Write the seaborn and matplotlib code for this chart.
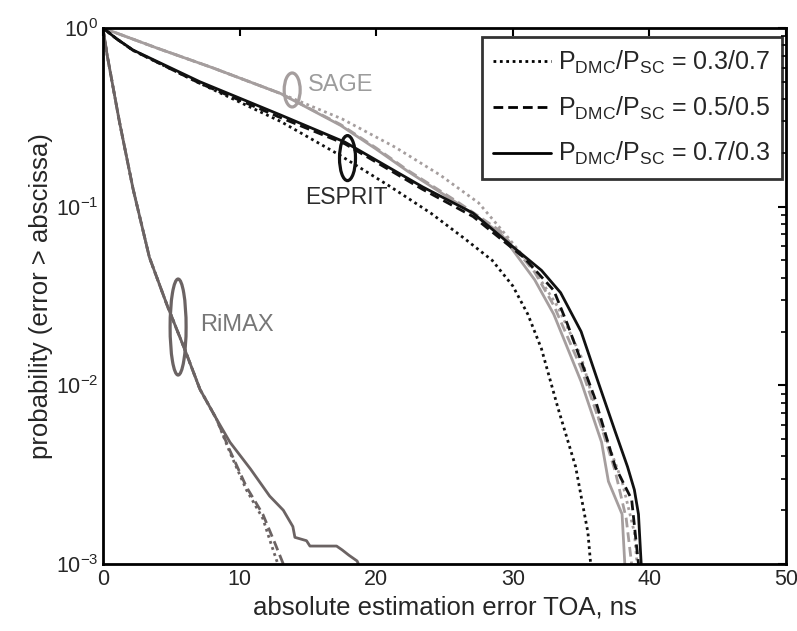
import matplotlib
matplotlib.use('Agg')
import matplotlib.pyplot as plt
import matplotlib.transforms as mtransforms
from matplotlib.patches import Ellipse
from matplotlib.lines import Line2D
import pandas as pd
import seaborn as sns

# --- data (error in ns, probability error > abscissa) ---
sage_solid_x = [0, 4, 8, 13, 17.4, 20, 22.3, 25.9, 29.1, 31.6, 33, 35, 36.5, 37, 38, 38.2]
sage_solid_y = [1.0, 0.77, 0.60, 0.43, 0.285, 0.21, 0.158, 0.105, 0.071, 0.039, 0.025, 0.0105, 0.0048, 0.0029, 0.0019, 0.001]
sage_dash_x = [0, 4, 8, 13, 17.4, 20, 22.3, 25.9, 29.1, 31.6, 33, 35, 36.5, 37.5, 38.3, 38.7]
sage_dash_y = [1.0, 0.77, 0.60, 0.43, 0.288, 0.213, 0.16, 0.107, 0.073, 0.043, 0.028, 0.0125, 0.0058, 0.0033, 0.0018, 0.001]
sage_dot_x = [0, 4, 8, 13, 14, 17.5, 21.4, 24.7, 27.5, 29.6, 31.5, 33.3, 35, 36.2, 38, 38.9, 39.1]
sage_dot_y = [1.0, 0.77, 0.60, 0.43, 0.40, 0.31, 0.215, 0.15, 0.105, 0.068, 0.045, 0.0275, 0.0145, 0.0068, 0.0029, 0.0015, 0.001]

esprit_solid_x = [0, 1, 2.2, 7.1, 13, 17.7, 23.4, 27.1, 30.2, 32.1, 33.5, 35, 36.2, 37.5, 38.4, 38.9, 39.2, 39.4]
esprit_solid_y = [1.0, 0.87, 0.753, 0.50, 0.326, 0.23, 0.129, 0.092, 0.058, 0.044, 0.033, 0.020, 0.0107, 0.0055, 0.0035, 0.0026, 0.0019, 0.001]
esprit_dash_x = [0, 1, 2.2, 7.1, 13, 17.7, 23.4, 27.1, 30.8, 33, 34, 36, 37.5, 38.7, 39.2]
esprit_dash_y = [1.0, 0.87, 0.75, 0.49, 0.315, 0.225, 0.125, 0.088, 0.052, 0.034, 0.022, 0.0085, 0.0035, 0.0023, 0.001]
esprit_dot_x = [0, 1, 2.2, 7.1, 13, 17.3, 21, 24, 26.5, 28.5, 30, 31.1, 32.1, 33.3, 34.6, 35.5, 35.7]
esprit_dot_y = [1.0, 0.87, 0.75, 0.49, 0.30, 0.195, 0.13, 0.092, 0.066, 0.05, 0.036, 0.025, 0.016, 0.0075, 0.0035, 0.0015, 0.001]

rimax_solid_x = [0, 0.3, 1.2, 2.2, 3.4, 4.7, 6.0, 7.1, 8.3, 9.3, 10.8, 12.2, 13.2, 13.9, 14.05, 14.9, 15.15, 17.1, 17.5, 18.0, 18.6, 18.7]
rimax_solid_y = [1.0, 0.71, 0.30, 0.126, 0.052, 0.028, 0.0158, 0.0095, 0.0065, 0.0048, 0.0034, 0.0024, 0.0020, 0.00162, 0.00141, 0.00135, 0.00126, 0.00126, 0.0012, 0.00112, 0.00104, 0.001]
rimax_dash_x = [0, 0.3, 1.2, 2.2, 3.4, 4.7, 6.0, 7.1, 8.3, 9.3, 10.5, 11.7, 12.6, 13.2]
rimax_dash_y = [1.0, 0.71, 0.30, 0.126, 0.052, 0.028, 0.0158, 0.0095, 0.0065, 0.0043, 0.0027, 0.0019, 0.0013, 0.001]
rimax_dot_x = [0, 0.3, 1.2, 2.2, 3.4, 4.7, 6.0, 7.1, 8.3, 9.3, 10.5, 11.7, 12.3, 12.8]
rimax_dot_y = [1.0, 0.71, 0.30, 0.126, 0.052, 0.028, 0.0158, 0.0095, 0.0065, 0.0042, 0.0026, 0.0018, 0.0013, 0.001]

legend_labels = [r'$\mathregular{P_{DMC}/P_{SC}}$ = 0.3/0.7',
                 r'$\mathregular{P_{DMC}/P_{SC}}$ = 0.5/0.5',
                 r'$\mathregular{P_{DMC}/P_{SC}}$ = 0.7/0.3']

# colours
SAGE_C = '#a59e9e'
ESPRIT_C = '#111111'
RIMAX_C = '#6b6363'
DOT = (0, (1, 1.3))
DASH = (0, (3.5, 1.8))

sns.set_style('white')
plt.rcParams['font.family'] = ['Liberation Sans', 'DejaVu Sans']
plt.rcParams['mathtext.fontset'] = 'custom'
plt.rcParams['mathtext.rm'] = 'Liberation Sans'
plt.rcParams['mathtext.it'] = 'Liberation Sans:italic'

fig = plt.figure(figsize=(7.97, 6.31), dpi=100)
ax = fig.add_axes([0.1292, 0.1062, 0.857, 0.8494])

curves = [
    (sage_solid_x, sage_solid_y, SAGE_C, '-'),
    (sage_dash_x, sage_dash_y, SAGE_C, DASH),
    (sage_dot_x, sage_dot_y, SAGE_C, DOT),
    (rimax_solid_x, rimax_solid_y, RIMAX_C, '-'),
    (rimax_dash_x, rimax_dash_y, RIMAX_C, DASH),
    (rimax_dot_x, rimax_dot_y, RIMAX_C, DOT),
    (esprit_dot_x, esprit_dot_y, ESPRIT_C, DOT),
    (esprit_dash_x, esprit_dash_y, ESPRIT_C, DASH),
    (esprit_solid_x, esprit_solid_y, ESPRIT_C, '-'),
]
for xs, ys, col, ls in curves:
    df = pd.DataFrame({'err': xs, 'p': ys})
    sns.lineplot(data=df, x='err', y='p', ax=ax, color=col, linestyle=ls,
                 linewidth=2.0, estimator=None, sort=False)

ax.set_yscale('log')
ax.set_xlim(0, 50)
ax.set_ylim(1e-3, 1)
ax.set_xticks([0, 10, 20, 30, 40, 50])
ax.set_yticks([1e-3, 1e-2, 1e-1, 1])
ax.tick_params(axis='both', which='both', direction='in', top=True, right=True,
               labelsize=15.5, color='black')
ax.tick_params(which='major', length=6, width=1.5)
ax.tick_params(which='minor', length=3.5, width=1.2)
for s in ax.spines.values():
    s.set_linewidth(2.0)
    s.set_color('black')

ax.set_xlabel('absolute estimation error TOA, ns', fontsize=18.5, labelpad=4)
ax.set_ylabel('probability (error > abscissa)', fontsize=18.5, labelpad=2)


# ellipses drawn in pixel size around a data point
def ring(x, y, w, h, color):
    tr = fig.dpi_scale_trans + mtransforms.ScaledTranslation(x, y, ax.transData)
    ax.add_patch(Ellipse((0, 0), w / 100, h / 100, transform=tr, fill=False,
                         ec=color, lw=2.3, zorder=5))


ring(13.85, 0.45, 16, 34, SAGE_C)
ring(17.9, 0.187, 16, 45, ESPRIT_C)
ring(5.5, 0.0212, 16, 96, RIMAX_C)
ax.text(15.0, 0.48, 'SAGE', color='#9c9c9c', fontsize=17, va='center')
ax.text(14.8, 0.112, 'ESPRIT', color='#2b2b2b', fontsize=16.5, va='center')
ax.text(7.1, 0.0218, 'RiMAX', color='#777777', fontsize=17, va='center')

handles = [Line2D([], [], color='black', lw=2.0, linestyle=DOT),
           Line2D([], [], color='black', lw=2.0, linestyle=DASH),
           Line2D([], [], color='black', lw=2.0, linestyle='-')]
leg = ax.legend(handles, legend_labels, loc='upper right', bbox_to_anchor=(0.994, 0.983),
                fontsize=18, frameon=True, fancybox=False, handlelength=2.3,
                handletextpad=0.3, labelspacing=0.75, borderpad=0.45, borderaxespad=0)
leg.get_frame().set_edgecolor('black')
leg.get_frame().set_linewidth(2.0)

fig.savefig('out.png', dpi=100)
